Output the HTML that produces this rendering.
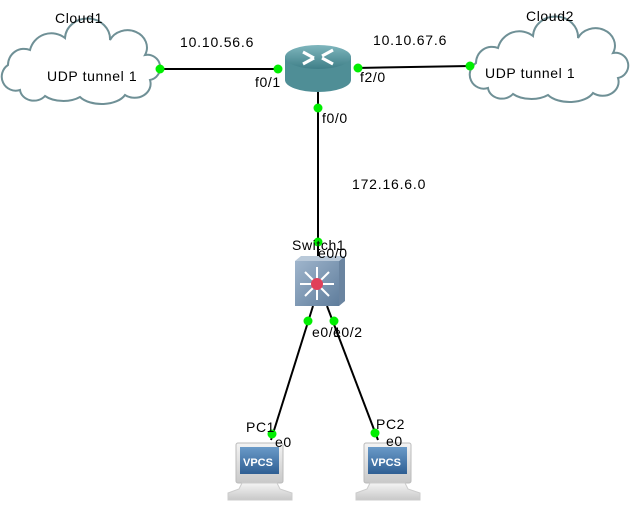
<!DOCTYPE html>
<html><head><meta charset="utf-8"><style>
html,body{margin:0;padding:0;background:#fff;}
svg{display:block;}
text{font-family:"Liberation Sans",sans-serif;font-size:13px;fill:#000;}
.ip{font-size:14px;letter-spacing:0.8px;}
.cl{font-size:14px;letter-spacing:0.6px;}
</style></head><body>
<svg width="633" height="507" viewBox="0 0 633 507" xmlns="http://www.w3.org/2000/svg">
<defs>
<linearGradient id="rt" x1="0" y1="0" x2="0" y2="1"><stop offset="0" stop-color="#7fb6bd"/><stop offset="1" stop-color="#3f7f88"/></linearGradient>
<linearGradient id="sw" x1="0" y1="0" x2="1" y2="1"><stop offset="0" stop-color="#9fb5cc"/><stop offset="1" stop-color="#5f7d9c"/></linearGradient>
<linearGradient id="scr" x1="0" y1="0" x2="0" y2="1"><stop offset="0" stop-color="#6a9ac8"/><stop offset="1" stop-color="#2f5f93"/></linearGradient>
<linearGradient id="pcb" x1="0" y1="0" x2="0" y2="1"><stop offset="0" stop-color="#f4f4f4"/><stop offset="1" stop-color="#c8c8c8"/></linearGradient>
<path id="cloud" d="M20 90 A14 14 0 0 1 8 65 A16 16 0 0 1 30 50 A22 22 0 0 1 65 38 A22 20 0 0 1 110 40 A18 16 0 0 1 145 55 A12 12 0 0 1 150 80 A16 14 0 0 1 125 95 A25 14 0 0 1 80 97 A24 14 0 0 1 45 96 A14 12 0 0 1 20 90 Z" fill="#fff" stroke="#6f9096" stroke-width="2"/>
<g id="pc">
<rect x="0" y="0" width="47" height="40" rx="2" fill="url(#pcb)" stroke="#bbb"/>
<rect x="4" y="4" width="39" height="27" fill="url(#scr)"/>
<text x="7" y="23" style="font-size:11px;font-weight:bold;fill:#fff">VPCS</text>
<path d="M6 40 L41 40 L44 46 L56 50 L56 57 L-8 57 L-8 50 L3 46 Z" fill="url(#pcb)" stroke="#ccc"/>
</g>
</defs>
<g stroke="#000" stroke-width="2">
<line x1="160" y1="69" x2="280" y2="69"/>
<line x1="356" y1="68" x2="470" y2="66"/>
<line x1="318" y1="88" x2="318" y2="262"/>
<line x1="313" y1="306" x2="271" y2="440"/>
<line x1="327" y1="306" x2="378" y2="440"/>
</g>
<use href="#cloud"/>
<use href="#cloud" transform="translate(468,-2)"/>
<text x="55" y="23" class="cl">Cloud1</text>
<text x="47" y="81" class="cl">UDP tunnel 1</text>
<text x="526" y="21" class="cl">Cloud2</text>
<text x="485" y="78" class="cl">UDP tunnel 1</text>
<path d="M285 57 L285 80 A33 12 0 0 0 351 80 L351 57 Z" fill="#4f8e96"/>
<ellipse cx="318" cy="57" rx="33" ry="12" fill="url(#rt)"/>
<g stroke="#fff" stroke-width="3" fill="none">
<line x1="303" y1="52" x2="314" y2="58"/><line x1="322" y1="56" x2="333" y2="50"/>
<line x1="303" y1="64" x2="314" y2="58"/><line x1="322" y1="58" x2="333" y2="64"/>
</g>
<path d="M339 261 L345 256 L345 301 L339 306 Z" fill="#6a84a0"/>
<path d="M295 261 L301 256 L345 256 L339 261 Z" fill="#b9c9d9"/>
<rect x="295" y="261" width="44" height="45" fill="url(#sw)"/>
<g stroke="#fff" stroke-width="2">
<line x1="317" y1="267" x2="317" y2="300"/><line x1="300" y1="284" x2="334" y2="284"/>
<line x1="305" y1="272" x2="329" y2="296"/><line x1="329" y1="272" x2="305" y2="296"/>
</g>
<circle cx="317" cy="284" r="6" fill="#e0405a"/>
<use href="#pc" transform="translate(236,443)"/>
<use href="#pc" transform="translate(364,443)"/>
<g fill="#00ee00">
<circle cx="160" cy="69" r="4.5"/><circle cx="278" cy="69" r="4.5"/>
<circle cx="358" cy="68" r="4.5"/><circle cx="470" cy="66" r="4.5"/>
<circle cx="318" cy="108" r="4.5"/><circle cx="318" cy="242" r="4.5"/>
<circle cx="308" cy="321" r="4.5"/><circle cx="334" cy="321" r="4.5"/>
<circle cx="272" cy="434" r="4.5"/><circle cx="375" cy="433" r="4.5"/>
</g>
<text x="180" y="47" class="ip">10.10.56.6</text>
<text x="373" y="45" class="ip">10.10.67.6</text>
<text x="255" y="87" class="cl">f0/1</text>
<text x="360" y="82" class="cl">f2/0</text>
<text x="322" y="123" class="cl">f0/0</text>
<text x="352" y="189" class="ip">172.16.6.0</text>
<text x="292" y="250" class="cl">Switch1</text>
<text x="318" y="258" class="cl">e0/0</text>
<text x="312" y="337" class="cl">e0/1</text>
<text x="333" y="337" class="cl">e0/2</text>
<text x="246" y="432" class="cl">PC1</text>
<text x="275" y="447" class="cl">e0</text>
<text x="376" y="429" class="cl">PC2</text>
<text x="386" y="446" class="cl">e0</text>
</svg>
</body></html>
